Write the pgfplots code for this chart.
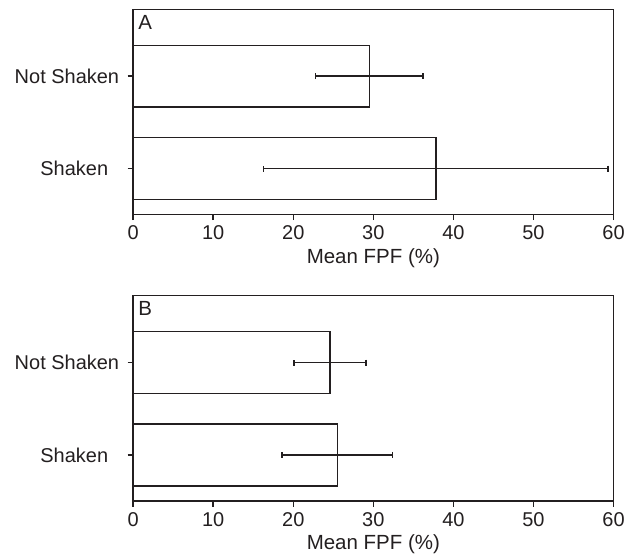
\documentclass[border=0pt]{standalone}
\usepackage{fontspec}
\setmainfont{Liberation Sans}
\usepackage{pgfplots}
\pgfplotsset{compat=1.18}
\definecolor{ink}{RGB}{35,31,32}

\pgfplotsset{
  fpfpanel/.style={
    scale only axis,
    width=481pt, height=205.7pt,
    xbar, bar width=0.67,
    xmin=0, xmax=60,
    ymin=-0.5, ymax=1.725,
    xtick={0,10,...,60},
    ytick={0,1},
    yticklabels={Shaken\rule{11pt}{0pt}, Not Shaken},
    tick align=outside, tick pos=left,
    major tick length=5.5pt,
    axis line style={ink, line width=1.5pt},
    every tick/.style={ink, line width=1.5pt},
    tick label style={font=\fontsize{20}{23}\selectfont, text=ink},
    xticklabel style={yshift=-2pt},
    yticklabel style={xshift=-5pt},
    /pgf/number format/assume math mode=true,
    xlabel={Mean FPF (\%)},
    xlabel style={font=\fontsize{20.5}{23}\selectfont, text=ink, yshift=-2pt},
  },
  fpfbar/.style={
    draw=ink, fill=white, line width=1.5pt,
    error bars/.cd, x dir=both, x explicit,
    error mark=|,
    error mark options={ink, line width=1.6pt, mark size=3pt},
    error bar style={ink, line width=1.6pt},
  },
}

\begin{document}
\begin{tikzpicture}
% bounding box matching the 628x554 reference
\path (-133.3pt,215pt) rectangle (494.7pt,-339pt);

\begin{axis}[fpfpanel, at={(0,0)}]
\addplot[fpfbar] coordinates {
  (37.8,0) +- (21.5,0)
  (29.5,1) +- (6.7,0)
};
\node[anchor=north west, inner sep=0pt, font=\fontsize{20.5}{23}\selectfont, text=ink]
  at (rel axis cs:0,1) [xshift=5pt, yshift=-6pt] {A};
\end{axis}

\begin{axis}[fpfpanel, at={(0,-286.7pt)}]
\addplot[fpfbar] coordinates {
  (25.5,0) +- (6.9,0)
  (24.6,1) +- (4.5,0)
};
\node[anchor=north west, inner sep=0pt, font=\fontsize{20.5}{23}\selectfont, text=ink]
  at (rel axis cs:0,1) [xshift=5pt, yshift=-6pt] {B};
\end{axis}
\end{tikzpicture}
\end{document}
